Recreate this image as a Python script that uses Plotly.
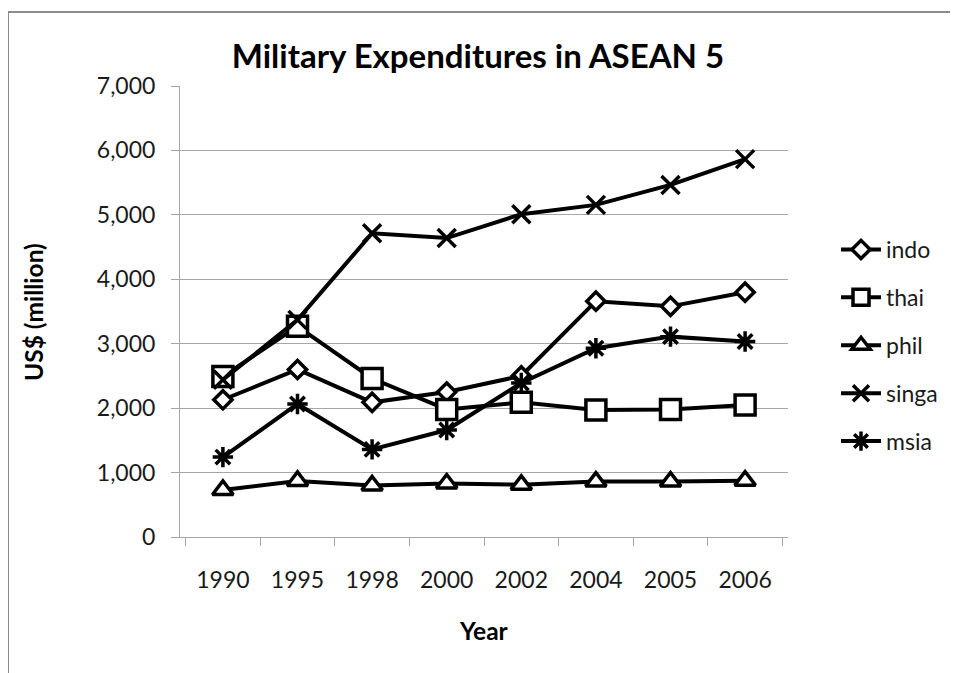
import plotly.graph_objects as go

years = ["1990", "1995", "1998", "2000", "2002", "2004", "2005", "2006"]
indo = [2130, 2600, 2090, 2250, 2500, 3660, 3580, 3800]
thai = [2490, 3270, 2460, 1980, 2090, 1970, 1980, 2050]
phil = [730, 870, 800, 830, 810, 860, 860, 875]
singa = [2440, 3370, 4715, 4640, 5010, 5155, 5465, 5865]
msia = [1240, 2065, 1360, 1660, 2390, 2930, 3110, 3035]

series = [
    ("indo", indo, "diamond", 14),
    ("thai", thai, "square", 20),
    ("phil", phil, "triangle-up", 18),
    ("singa", singa, "x-thin", 18),
    ("msia", msia, "asterisk", 17),
]

FONT = "Lato"
TXT = "#1a1a1a"
GRID = "#a6a6a6"

fig = go.Figure()
for name, vals, sym, sz in series:
    fig.add_trace(go.Scatter(
        x=years, y=vals, name=name, mode="lines+markers",
        legendgroup=name,
        line=dict(color="black", width=4),
        marker=dict(symbol=sym, size=sz, color="white",
                    line=dict(color="black", width=3.5)),
    ))

OFF = 8  # page body margin
L, R, T, B = 180 - OFF, 788 - OFF, 86 - OFF, 537 - OFF
W, H = 958 - OFF, 673 - OFF
pw, ph = R - L, B - T

def px(x):
    return (x - OFF - L) / pw

def py(y):
    return (B - (y - OFF)) / ph

fig.update_layout(
    width=W, height=H,
    margin=dict(l=L, r=W - R, t=T, b=H - B, pad=0),
    paper_bgcolor="white", plot_bgcolor="white",
    font=dict(family=FONT, color=TXT, size=23),
    title=dict(text="<b>Military Expenditures in ASEAN 5</b>",
               font=dict(family=FONT, size=33, color="black"),
               xref="paper", x=px(478), xanchor="center",
               yref="container", y=1 - (56 - OFF) / H, yanchor="middle"),
    xaxis=dict(type="category", showgrid=False, showline=True,
               linecolor=GRID, linewidth=1, ticks="outside",
               tickson="boundaries", ticklen=8, tickcolor=GRID,
               tickfont=dict(size=23, color=TXT), ticklabelstandoff=22,
               fixedrange=True),
    yaxis=dict(range=[0, 7000], dtick=1000, tickformat=",d",
               showgrid=True, gridcolor=GRID, gridwidth=1,
               showline=True, linecolor=GRID, linewidth=1,
               ticks="outside", ticklen=8, tickcolor=GRID,
               tickfont=dict(size=23, color=TXT), ticklabelstandoff=11,
               zeroline=False, fixedrange=True),
    legend=dict(x=px(836), xanchor="left", y=py(228), yanchor="top",
                font=dict(size=23, color=TXT), traceorder="grouped",
                tracegroupgap=15, bgcolor="rgba(0,0,0,0)",
                itemwidth=40),
    showlegend=True,
)

fig.add_annotation(text="<b>US$ (million)</b>", xref="paper", yref="paper",
                   x=px(33), y=py(312), textangle=-90, showarrow=False,
                   font=dict(size=24.5, color="black"),
                   xanchor="center", yanchor="middle")
fig.add_annotation(text="<b>Year</b>", xref="paper", yref="paper",
                   x=px(484), y=py(630), showarrow=False,
                   font=dict(size=24.5, color="black"),
                   xanchor="center", yanchor="middle")

fig.add_shape(type="rect", xref="paper", yref="paper",
              x0=px(8), y0=py(700), x1=px(1000), y1=py(12),
              line=dict(color="#8c8c8c", width=2), fillcolor="rgba(0,0,0,0)",
              layer="below")

fig.write_html("out.html")
